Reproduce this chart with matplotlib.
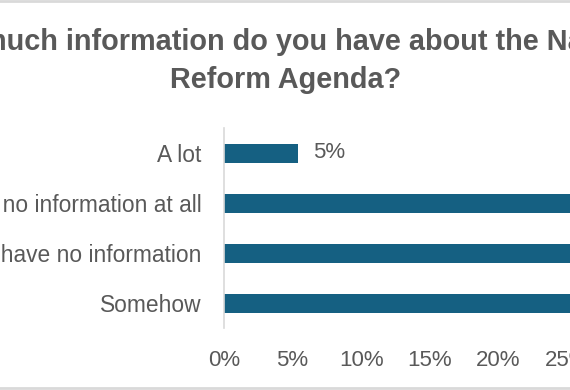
import matplotlib
matplotlib.use("Agg")
import matplotlib.pyplot as plt
from matplotlib.lines import Line2D
from matplotlib.ticker import FuncFormatter

categories = ["A lot", "I have no information at all", "I have no information", "Somehow"]
values = [0.054, 0.33, 0.32, 0.296]
value_labels = ["5%", "33%", "32%", "30%"]
xticks = [0.0, 0.05, 0.10, 0.15, 0.20, 0.25, 0.30, 0.35, 0.40]
title = "How much information do you have about the National\nReform Agenda?"

BAR = "#156082"
TXT = "#595959"
FONT = ["Liberation Sans", "DejaVu Sans"]
plt.rcParams["font.family"] = FONT

W, H = 570, 390
fig = plt.figure(figsize=(W / 100, H / 100), dpi=100)
left_px, px_per_pct = 224, 13.72
ax_w = px_per_pct * 40 / W
ax = fig.add_axes([left_px / W, 62 / H, ax_w, 200 / H])

ypos = list(range(len(categories)))
ax.barh(ypos, values, height=0.38, color=BAR)
ax.set_ylim(len(categories) - 0.5, -0.5)
ax.set_xlim(0, 0.40)
ax.set_yticks(ypos)
ax.set_yticklabels(categories)
ax.set_xticks(xticks)
ax.xaxis.set_major_formatter(FuncFormatter(lambda v, p: f"{round(v * 100):d}%"))
ax.tick_params(axis="x", length=0, labelsize=16, colors=TXT, pad=16)
ax.tick_params(axis="y", length=0, labelsize=16.4, colors=TXT, pad=16)
for s in ["top", "right", "bottom"]:
    ax.spines[s].set_visible(False)
ax.spines["left"].set_color("#d9d9d9")
ax.spines["left"].set_linewidth(1.2)

for y, v, lab in zip(ypos, values, value_labels):
    ax.annotate(lab, (v, y), xytext=(11, 0), textcoords="offset points",
                va="center", ha="left", fontsize=16, color=TXT)

fig.text(286 / W, 1 - 88 / H, title, ha="center", va="baseline", fontsize=20.8,
         fontweight="bold", color=TXT, linespacing=1.45)

fig.add_artist(Line2D([0, 1], [1 - 1 / H, 1 - 1 / H], transform=fig.transFigure,
                      color="#d9d9d9", lw=2))
fig.add_artist(Line2D([0, 1], [2.5 / H, 2.5 / H], transform=fig.transFigure,
                      color="#d9d9d9", lw=2))

fig.savefig("out.png", dpi=100)
